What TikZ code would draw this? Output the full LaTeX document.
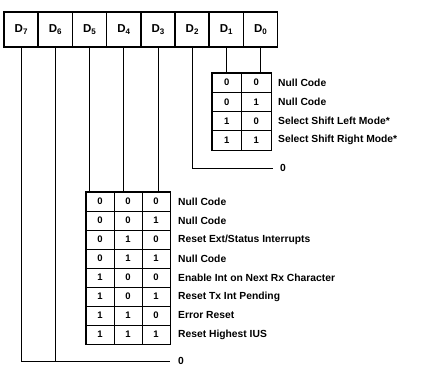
\documentclass[tikz,border=0pt]{standalone}
\usepackage{fontspec}
\setmainfont{Liberation Sans}
\newcommand{\Dbit}[1]{D\raisebox{-2.4pt}{\fontsize{8}{8}\selectfont #1}}
\begin{document}
\begin{tikzpicture}[x=1pt,y=-1pt,
  reg/.style={draw, line width=1.7pt, minimum width=34.2pt, minimum height=35pt, inner sep=0pt, font=\fontsize{11.5}{11.5}\selectfont\bfseries},
  cell/.style={draw, line width=0.8pt, minimum width=28pt, minimum height=19pt, inner sep=0pt, font=\fontsize{9.5}{9.5}\selectfont\bfseries},
  scell/.style={cell, minimum width=29.5pt, minimum height=19.25pt},
  lbl/.style={anchor=west, inner sep=0pt, font=\fontsize{10.3}{10.3}\selectfont\bfseries},
  wire/.style={line width=0.8pt},
  frame/.style={line width=1.2pt}]
\useasboundingbox (0,0) rectangle (426,377);
% register
\node[reg] (d7) at (21.1,29.5) {\Dbit{7}};
\node[reg] (d6) at (55.3,29.5) {\Dbit{6}};
\node[reg] (d5) at (89.5,29.5) {\Dbit{5}};
\node[reg] (d4) at (123.7,29.5) {\Dbit{4}};
\node[reg] (d3) at (157.9,29.5) {\Dbit{3}};
\node[reg] (d2) at (192.1,29.5) {\Dbit{2}};
\node[reg] (d1) at (226.3,29.5) {\Dbit{1}};
\node[reg] (d0) at (260.5,29.5) {\Dbit{0}};
% small table (D1 D0)
\node[scell] (s1a) at (226.75,82.6) {0};  \node[scell] (s1b) at (256.25,82.6) {0};
\node[scell] (s2a) at (226.75,101.85) {0}; \node[scell] (s2b) at (256.25,101.85) {1};
\node[scell] (s3a) at (226.75,121.1) {1}; \node[scell] (s3b) at (256.25,121.1) {0};
\node[scell] (s4a) at (226.75,140.35) {1}; \node[scell] (s4b) at (256.25,140.35) {1};
\draw[frame] (s1a.north west) rectangle (s4b.south east);
\node[lbl] (sl1) at (278,82.6) {Null Code};
\node[lbl] (sl2) at (278,101.85) {Null Code};
\node[lbl] (sl3) at (278,121.1) {Select Shift Left Mode*};
\node[lbl] (sl4) at (278,140.35) {Select Shift Right Mode*};
\draw[wire] (d1.south) -- (d1.south |- s1a.north);
\draw[wire] (d0.south) -- (d0.south |- s1b.north);
% D2
\coordinate (d2end) at (273,168);
\draw[wire] (d2.south) |- (d2end);
\node[lbl] (z2) at (280,168) {0};
% big table (D5 D4 D3)
\foreach \r/\y/\a/\b/\c in {1/201.5/0/0/0, 2/220.5/0/0/1, 3/239.5/0/1/0, 4/258.5/0/1/1,
                             5/277.5/1/0/0, 6/296.5/1/0/1, 7/315.5/1/1/0, 8/334.5/1/1/1} {
  \node[cell] (b\r a) at (100,\y) {\a};
  \node[cell] (b\r b) at (128,\y) {\b};
  \node[cell] (b\r c) at (156,\y) {\c};
}
\draw[frame] (b1a.north west) rectangle (b8c.south east);
\node[lbl] (bl1) at (178,201.5) {Null Code};
\node[lbl] (bl2) at (178,220.5) {Null Code};
\node[lbl] (bl3) at (178,239.5) {Reset Ext/Status Interrupts};
\node[lbl] (bl4) at (178,258.5) {Null Code};
\node[lbl] (bl5) at (178,277.5) {Enable Int on Next Rx Character};
\node[lbl] (bl6) at (178,296.5) {Reset Tx Int Pending};
\node[lbl] (bl7) at (178,315.5) {Error Reset};
\node[lbl] (bl8) at (178,334.5) {Reset Highest IUS};
\draw[wire] (d5.south) -- (d5.south |- b1a.north);
\draw[wire] (d4.south) -- (d4.south |- b1b.north);
\draw[wire] (d3.south) -- (d3.south |- b1c.north);
% D7 D6
\coordinate (d76end) at (170,361);
\draw[wire] (d7.south) |- (d76end);
\draw[wire] (d6.south) -- (d6.south |- d76end);
\node[lbl] (z76) at (178,361) {0};
\end{tikzpicture}
\end{document}
